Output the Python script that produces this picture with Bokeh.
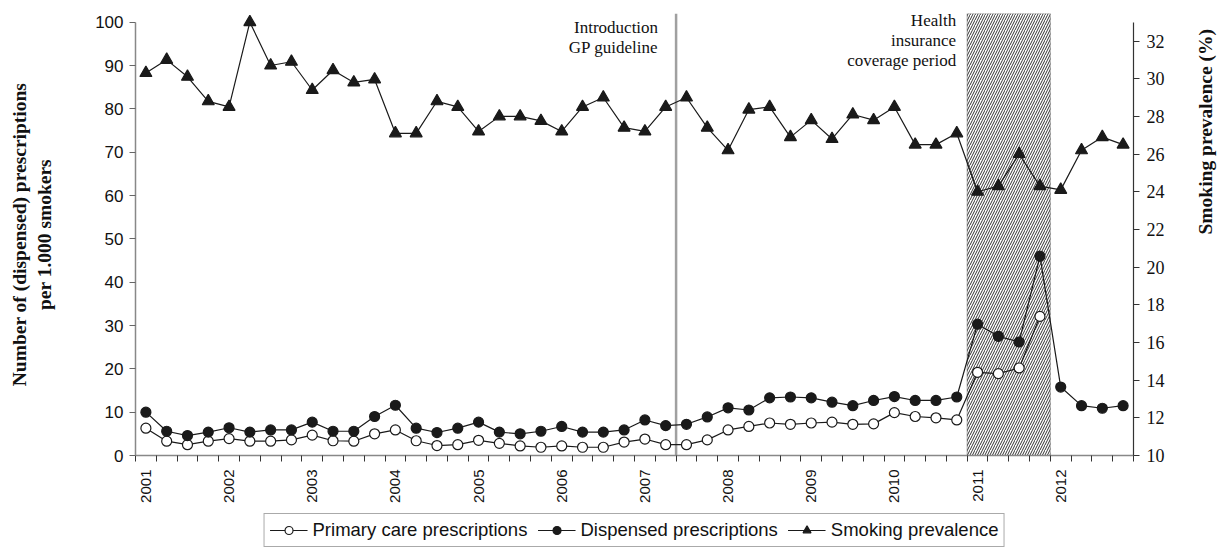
import math
from bokeh.plotting import figure
from bokeh.layouts import column
from bokeh.models import (Range1d, LinearAxis, FixedTicker, Span, Label, Legend,
                          LegendItem, BoxAnnotation, ColumnDataSource)
from bokeh.embed import file_html
from bokeh.resources import INLINE

# ---------------- data (quarterly, 2001 Q1 .. 2012 Q4) ----------------
year_labels = ["2001", "2002", "2003", "2004", "2005", "2006",
               "2007", "2008", "2009", "2010", "2011", "2012"]
quarters_per_year = 4

# Primary care prescriptions per 1.000 smokers (open circles, until 2011 Q4)
primary_care = [6.3, 3.3, 2.5, 3.3, 3.9, 3.3, 3.3, 3.6, 4.7, 3.4, 3.3, 5.0,
                5.9, 3.4, 2.3, 2.5, 3.5, 2.8, 2.2, 1.9, 2.2, 1.9, 1.9, 3.1,
                3.8, 2.5, 2.5, 3.6, 5.9, 6.7, 7.5, 7.2, 7.5, 7.7, 7.2, 7.3,
                9.9, 9.0, 8.7, 8.2, 19.2, 18.9, 20.2, 32.1]

# Dispensed prescriptions per 1.000 smokers (filled circles)
dispensed = [10.0, 5.6, 4.6, 5.4, 6.4, 5.4, 5.9, 5.9, 7.7, 5.6, 5.6, 9.0,
             11.6, 6.3, 5.3, 6.3, 7.7, 5.4, 5.0, 5.6, 6.7, 5.4, 5.4, 5.9,
             8.2, 6.9, 7.2, 8.9, 11.0, 10.5, 13.3, 13.5, 13.3, 12.3, 11.5, 12.7,
             13.6, 12.7, 12.7, 13.5, 30.3, 27.5, 26.2, 46.0, 15.8, 11.5, 10.9, 11.5]

# Smoking prevalence (%) (triangles, right axis)
smoking = [30.3, 31.0, 30.1, 28.8, 28.5, 33.0, 30.7, 30.9, 29.4, 30.45, 29.8, 29.96,
           27.1, 27.1, 28.8, 28.5, 27.2, 28.0, 28.0, 27.76, 27.2, 28.5, 29.0, 27.4,
           27.2, 28.5, 29.0, 27.4, 26.2, 28.36, 28.5, 26.9, 27.8, 26.8, 28.1, 27.8,
           28.5, 26.5, 26.5, 27.1, 24.0, 24.3, 26.0, 24.3, 24.1, 26.2, 26.9, 26.5]

series_names = ["Primary care prescriptions", "Dispensed prescriptions", "Smoking prevalence"]

left_ticks = [0, 10, 20, 30, 40, 50, 60, 70, 80, 90, 100]
right_ticks = [10, 12, 14, 16, 18, 20, 22, 24, 26, 28, 30, 32]

guideline_boundary = 25.5          # between 2007 Q2 and 2007 Q3
coverage_start, coverage_end = 39.5, 43.5   # 2011 Q1 .. 2011 Q4

n_q = len(year_labels) * quarters_per_year
x_all = list(range(n_q))
x_pc = list(range(len(primary_care)))

# ---------------- figure ----------------
SANS = "Liberation Sans"
SERIF = "Liberation Serif"
INK = "#1a1a1a"
FRAME_W = 998
LEFT_B = 135
RIGHT_B = 86

p = figure(frame_width=FRAME_W, frame_height=442, output_backend="svg", toolbar_location=None,
           x_range=Range1d(-0.5, n_q - 0.5), y_range=Range1d(0, 102),
           min_border_left=LEFT_B, min_border_right=RIGHT_B, min_border_top=13,
           min_border_bottom=57, y_axis_location=None, x_axis_location=None)
p.outline_line_color = None
p.xgrid.visible = False
p.ygrid.visible = False
p.background_fill_color = "white"

p.extra_y_ranges = {"prev": Range1d(10, 10 + 102 * 0.23)}

# x axis (category ticks between quarters, year labels under Q1)
xaxis = LinearAxis()
xaxis.ticker = FixedTicker(ticks=[i * quarters_per_year for i in range(len(year_labels))],
                           minor_ticks=[k - 0.5 for k in range(n_q + 1)])
xaxis.major_label_overrides = {i * quarters_per_year: y for i, y in enumerate(year_labels)}
xaxis.major_label_orientation = math.pi / 2
xaxis.major_tick_line_color = None
xaxis.major_tick_out = 6
xaxis.major_label_standoff = 8
xaxis.minor_tick_out = 6
xaxis.minor_tick_in = 0
xaxis.minor_tick_line_color = "#333333"
xaxis.axis_line_color = "#888888"
xaxis.axis_line_width = 1.5
xaxis.major_label_text_font = SANS
xaxis.major_label_text_font_size = "15px"
xaxis.major_label_text_color = "#111111"
p.add_layout(xaxis, "below")

# left axis
yl = LinearAxis(axis_label="Number of (dispensed) prescriptions\nper 1.000 smokers")
yl.ticker = FixedTicker(ticks=left_ticks, minor_ticks=[])
yl.bounds = (0, 100)
yl.major_tick_out = 6
yl.major_tick_in = 0
yl.major_label_standoff = 6
yl.axis_line_color = "#888888"
yl.axis_line_width = 1.5
yl.major_tick_line_color = "#666666"
yl.major_label_text_font = SANS
yl.major_label_text_font_size = "17px"
yl.major_label_text_color = "#111111"
yl.axis_label_text_font = SERIF
yl.axis_label_text_font_style = "bold"
yl.axis_label_text_font_size = "19.5px"
yl.axis_label_text_color = "#111111"
yl.axis_label_standoff = 37
p.add_layout(yl, "left")

# right axis
yr = LinearAxis(y_range_name="prev", axis_label="Smoking prevalence (%)")
yr.ticker = FixedTicker(ticks=right_ticks, minor_ticks=[])
yr.bounds = (10, 33)
yr.major_tick_out = 6
yr.major_tick_in = 0
yr.major_label_standoff = 7
yr.axis_line_color = "#333333"
yr.axis_line_width = 1.2
yr.major_tick_line_color = "#333333"
yr.major_label_text_font = SERIF
yr.major_label_text_font_size = "18px"
yr.major_label_text_color = "#111111"
yr.axis_label_text_font = SERIF
yr.axis_label_text_font_style = "bold"
yr.axis_label_text_font_size = "19.5px"
yr.axis_label_text_color = "#111111"
yr.axis_label_standoff = 38
if "axis_label_orientation" in yr.properties():
    yr.axis_label_orientation = math.pi / 2
p.add_layout(yr, "right")

# shaded coverage period
box = BoxAnnotation(left=coverage_start, right=coverage_end,
                    fill_color="white", fill_alpha=1.0,
                    hatch_pattern="right_diagonal_line", hatch_color="#333333",
                    hatch_scale=5, hatch_weight=1.0,
                    line_color="#111111", line_width=1.2, level="underlay")
p.add_layout(box)

# guideline vertical line
p.add_layout(Span(location=guideline_boundary, dimension="height",
                  line_color="#a0a0a0", line_width=2.5, level="underlay"))

# annotations
for txt, yv in [("Introduction", 98.8), ("GP guideline", 94.2)]:
    p.add_layout(Label(x=guideline_boundary, y=yv, x_offset=-18, text=txt,
                       text_align="right", text_baseline="middle",
                       text_font=SERIF, text_font_size="17px", text_color="#111111"))
for txt, yv in [("Health", 100.3), ("insurance", 95.7), ("coverage period", 91.1)]:
    p.add_layout(Label(x=coverage_start, y=yv, x_offset=-11, text=txt,
                       text_align="right", text_baseline="middle",
                       text_font=SERIF, text_font_size="17px", text_color="#111111"))

# series styles
styles = [dict(marker="circle", size=10, fill_color="white"),
          dict(marker="circle", size=10, fill_color=INK),
          dict(marker="triangle", size=12, fill_color=INK)]

src_pc = ColumnDataSource(dict(x=x_pc, y=primary_care))
src_d = ColumnDataSource(dict(x=x_all, y=dispensed))
src_s = ColumnDataSource(dict(x=x_all, y=smoking))
sources = [src_pc, src_d, src_s]
ranges = ["default", "default", "prev"]

for src, st, rng in zip(sources, styles, ranges):
    p.line("x", "y", source=src, line_color=INK, line_width=1.2, y_range_name=rng)
    p.scatter("x", "y", source=src, line_color=INK, line_width=1.2, y_range_name=rng, **st)

# ---------------- legend strip (separate figure below) ----------------
# same sources, drawn far outside this strip's view so only the legend shows
lg = figure(frame_width=FRAME_W, frame_height=36, output_backend="svg", toolbar_location=None,
            min_border_left=LEFT_B, min_border_right=RIGHT_B, min_border_top=0,
            min_border_bottom=0, x_range=Range1d(1000, 1001), y_range=Range1d(1000, 1001))
lg.axis.visible = False
lg.grid.visible = False
lg.outline_line_color = None

items = []
for name, src, st in zip(series_names, sources, styles):
    r1 = lg.line("x", "y", source=src, line_color=INK, line_width=1.2)
    r2 = lg.scatter("x", "y", source=src, line_color=INK, line_width=1.2, **st)
    items.append(LegendItem(label=name, renderers=[r1, r2]))

legend = Legend(items=items, orientation="horizontal", location="center")
legend.label_text_font = SANS
legend.label_text_font_size = "18.5px"
legend.label_text_color = "#111111"
legend.border_line_color = "#555555"
legend.border_line_width = 1.5
legend.padding = 5
legend.margin = 0
legend.spacing = 10
legend.glyph_width = 38
legend.label_standoff = 5
legend.label_height = 20
lg.add_layout(legend, "center")

layout = column(p, lg, spacing=0)
open("out.html", "w").write(file_html(layout, INLINE))
